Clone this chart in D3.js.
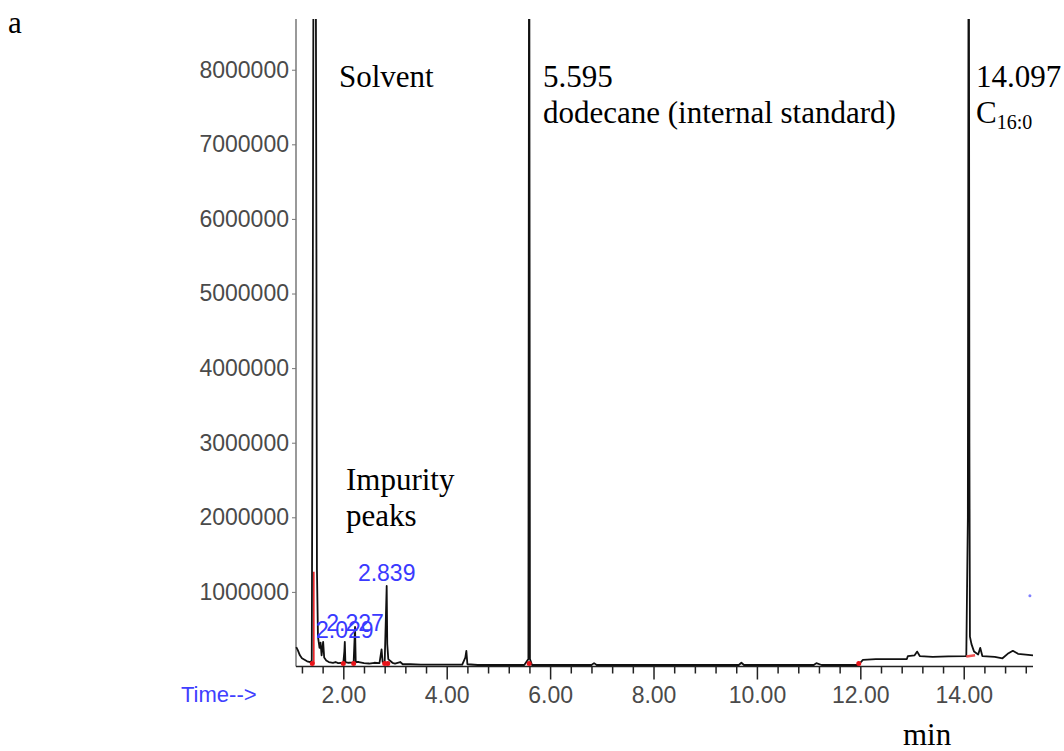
<!DOCTYPE html>
<html>
<head>
<meta charset="utf-8">
<script src="https://cdn.jsdelivr.net/npm/d3@7"></script>
<style>
  body { margin: 0; background: #fff; }
  svg { display: block; }
</style>
</head>
<body>
<div id="chart"></div>
<script>
// Chromatogram trace (time in min, abundance in counts)
const times = [
  1.09, 1.12, 1.16, 1.2, 1.25, 1.3, 1.36, 1.39, 1.41, 1.43, 1.46, 1.48, 1.49, 1.51,
  1.54, 1.56, 1.58, 1.61, 1.63, 1.67, 1.72, 1.8, 1.85, 1.9, 2.0, 2.02, 2.029, 2.04,
  2.1, 2.2, 2.227, 2.24, 2.3, 2.4, 2.5, 2.6, 2.7, 2.74, 2.76, 2.8, 2.825, 2.839,
  2.85, 2.87, 2.9, 2.95, 3.0, 3.1, 3.15, 3.3, 3.5, 3.8, 4.3, 4.36, 4.38, 4.4, 4.6,
  5.0, 5.5, 5.58, 5.595, 5.61, 5.65, 6.8, 6.85, 6.9, 9.65, 9.7, 9.75, 11.1, 11.15,
  11.25, 11.95, 12.0, 12.05, 12.3, 12.9, 12.92, 13.05, 13.1, 13.15, 13.4, 13.7,
  14.05, 14.08, 14.097, 14.11, 14.12, 14.15, 14.2, 14.28, 14.32, 14.36, 14.6, 14.75,
  14.85, 14.95, 15.05, 15.2, 15.34
];
const abundance = [
  260000, 220000, 150000, 110000, 90000, 70000, 60000, 80000, 5000000, 12000000, 12000000, 5600000, 1300000, 400000,
  250000, 320000, 150000, 330000, 120000, 80000, 60000, 50000, 60000, 45000, 50000, 200000, 330000, 60000,
  50000, 55000, 530000, 60000, 60000, 45000, 40000, 50000, 45000, 230000, 60000, 50000, 700000, 1080000,
  300000, 100000, 80000, 50000, 40000, 60000, 30000, 30000, 25000, 25000, 25000, 120000, 210000, 30000, 20000,
  20000, 20000, 100000, 12000000, 100000, 20000, 20000, 45000, 20000, 20000, 50000, 20000, 20000, 45000,
  20000, 20000, 50000, 90000, 100000, 100000, 140000, 150000, 200000, 140000, 130000, 135000,
  140000, 2000000, 12000000, 3000000, 400000, 300000, 200000, 160000, 250000, 140000, 130000, 110000,
  170000, 210000, 170000, 160000, 150000
];

// integration markers (red) and retention-time labels (blue)
const redMarkTimes = [1.4, 2.0, 2.2, 2.8, 2.86, 5.595, 11.97];
const peakLabels = ["2.839", "2.227", "2.029"];
const peakLabelTimes = [2.839, 2.227, 2.029];
const peakLabelValues = [1150000, 480000, 380000];

const yTicks = [1000000, 2000000, 3000000, 4000000, 5000000, 6000000, 7000000, 8000000];
const xMajorTicks = [2, 4, 6, 8, 10, 12, 14];
const xMinorTicks = [1.2, 1.6, 2.4, 2.8, 3.2, 3.6, 4.4, 4.8, 5.2, 5.6, 6.4, 6.8, 7.2, 7.6,
  8.4, 8.8, 9.2, 9.6, 10.4, 10.8, 11.2, 11.6, 12.4, 12.8, 13.2, 13.6, 14.4, 14.8, 15.2];

const width = 1064, height = 751;
const svg = d3.select('#chart').append('svg')
  .attr('width', width)
  .attr('height', height);

const x = d3.scaleLinear().domain([1.085, 15.34]).range([296, 1033]);
const y = d3.scaleLinear().domain([0, 8680000]).range([666.5, 19]);

const grey = '#4a4a4a';
const sans = "'Liberation Sans', Arial, sans-serif";
const serif = "'Liberation Serif', 'Times New Roman', serif";

svg.append('defs').append('clipPath').attr('id', 'plot-clip')
  .append('rect').attr('x', 290).attr('y', 19).attr('width', 760).attr('height', 655);

// y axis
const yAxis = svg.append('g')
  .attr('transform', 'translate(296,0)')
  .call(d3.axisLeft(y).tickValues(yTicks).tickSize(4).tickPadding(3).tickFormat(d3.format('d')));
yAxis.select('.domain').attr('d', `M0,${y.range()[1]}V${y.range()[0]}`).attr('stroke', '#777').attr('stroke-width', 1.5);
yAxis.selectAll('.tick line').attr('stroke', '#777');
yAxis.selectAll('.tick text')
  .attr('fill', grey)
  .style('font-family', sans)
  .style('font-size', '23px');

// x axis: major ticks with labels, minor ticks without
const xAxis = svg.append('g')
  .attr('transform', 'translate(0,666.5)')
  .call(d3.axisBottom(x).tickValues(xMajorTicks).tickSize(13).tickPadding(7).tickFormat(d3.format('.2f')));
xAxis.select('.domain').attr('d', `M${x.range()[0]},0H${x.range()[1]}`).attr('stroke', '#222').attr('stroke-width', 1.5);
xAxis.selectAll('.tick line').attr('stroke', '#222').attr('stroke-width', 1.5);
xAxis.selectAll('.tick text')
  .attr('fill', grey)
  .style('font-family', sans)
  .style('font-size', '23px');

svg.append('g')
  .attr('transform', 'translate(0,666.5)')
  .call(d3.axisBottom(x).tickValues(xMinorTicks).tickSize(7).tickFormat(''))
  .call(g => g.select('.domain').remove())
  .selectAll('.tick line').attr('stroke', '#222').attr('stroke-width', 1.5);

svg.append('text')
  .attr('x', 181).attr('y', 702)
  .attr('fill', '#4040ff')
  .style('font-family', sans)
  .style('font-size', '22px')
  .text('Time-->');

// trace
const points = times.map((t, i) => [t, abundance[i]]);
const line = d3.line().x(d => x(d[0])).y(d => y(d[1]));
svg.append('path')
  .datum(points)
  .attr('clip-path', 'url(#plot-clip)')
  .attr('d', line)
  .attr('fill', 'none')
  .attr('stroke', '#111')
  .attr('stroke-width', 1.8)
  .attr('stroke-linejoin', 'round');

// red integration marks
svg.append('line')
  .attr('x1', x(1.43)).attr('x2', x(1.43))
  .attr('y1', y(1270000)).attr('y2', y(40000))
  .attr('stroke', '#e8141a').attr('stroke-width', 1.5);
svg.append('g').selectAll('circle')
  .data(redMarkTimes)
  .join('circle')
  .attr('cx', d => x(d))
  .attr('cy', y(40000))
  .attr('r', 2.5)
  .attr('fill', '#e8141a');
svg.append('line')
  .attr('x1', x(14.05)).attr('x2', x(14.22))
  .attr('y1', y(135000)).attr('y2', y(150000))
  .attr('stroke', '#f05050').attr('stroke-width', 2.5);

// blue retention time labels (overlapping in the original printout)
svg.append('g').selectAll('text')
  .data(peakLabels)
  .join('text')
  .attr('x', (d, i) => x(peakLabelTimes[i]))
  .attr('y', (d, i) => y(peakLabelValues[i]))
  .attr('text-anchor', 'middle')
  .attr('fill', '#3a3aff')
  .style('font-family', sans)
  .style('font-size', '23px')
  .text(d => d);

svg.append('circle')
  .attr('cx', x(15.28)).attr('cy', y(950000)).attr('r', 1.5)
  .attr('fill', '#8080ff');

// annotations
const note = (tx, ty, str, size) => svg.append('text')
  .attr('x', tx).attr('y', ty)
  .style('font-family', serif)
  .style('font-size', (size || 31) + 'px')
  .attr('fill', '#000')
  .text(str);

note(8, 33, 'a', 31);
note(339, 87, 'Solvent');
note(543, 87, '5.595');
note(543, 123, 'dodecane (internal standard)');
note(976, 87, '14.097');
const c16 = note(976, 123, 'C');
c16.append('tspan').attr('dy', 6).style('font-size', '20px').text('16:0');
note(346, 490, 'Impurity');
note(346, 526, 'peaks');
note(903, 745, 'min');
</script>
</body>
</html>
